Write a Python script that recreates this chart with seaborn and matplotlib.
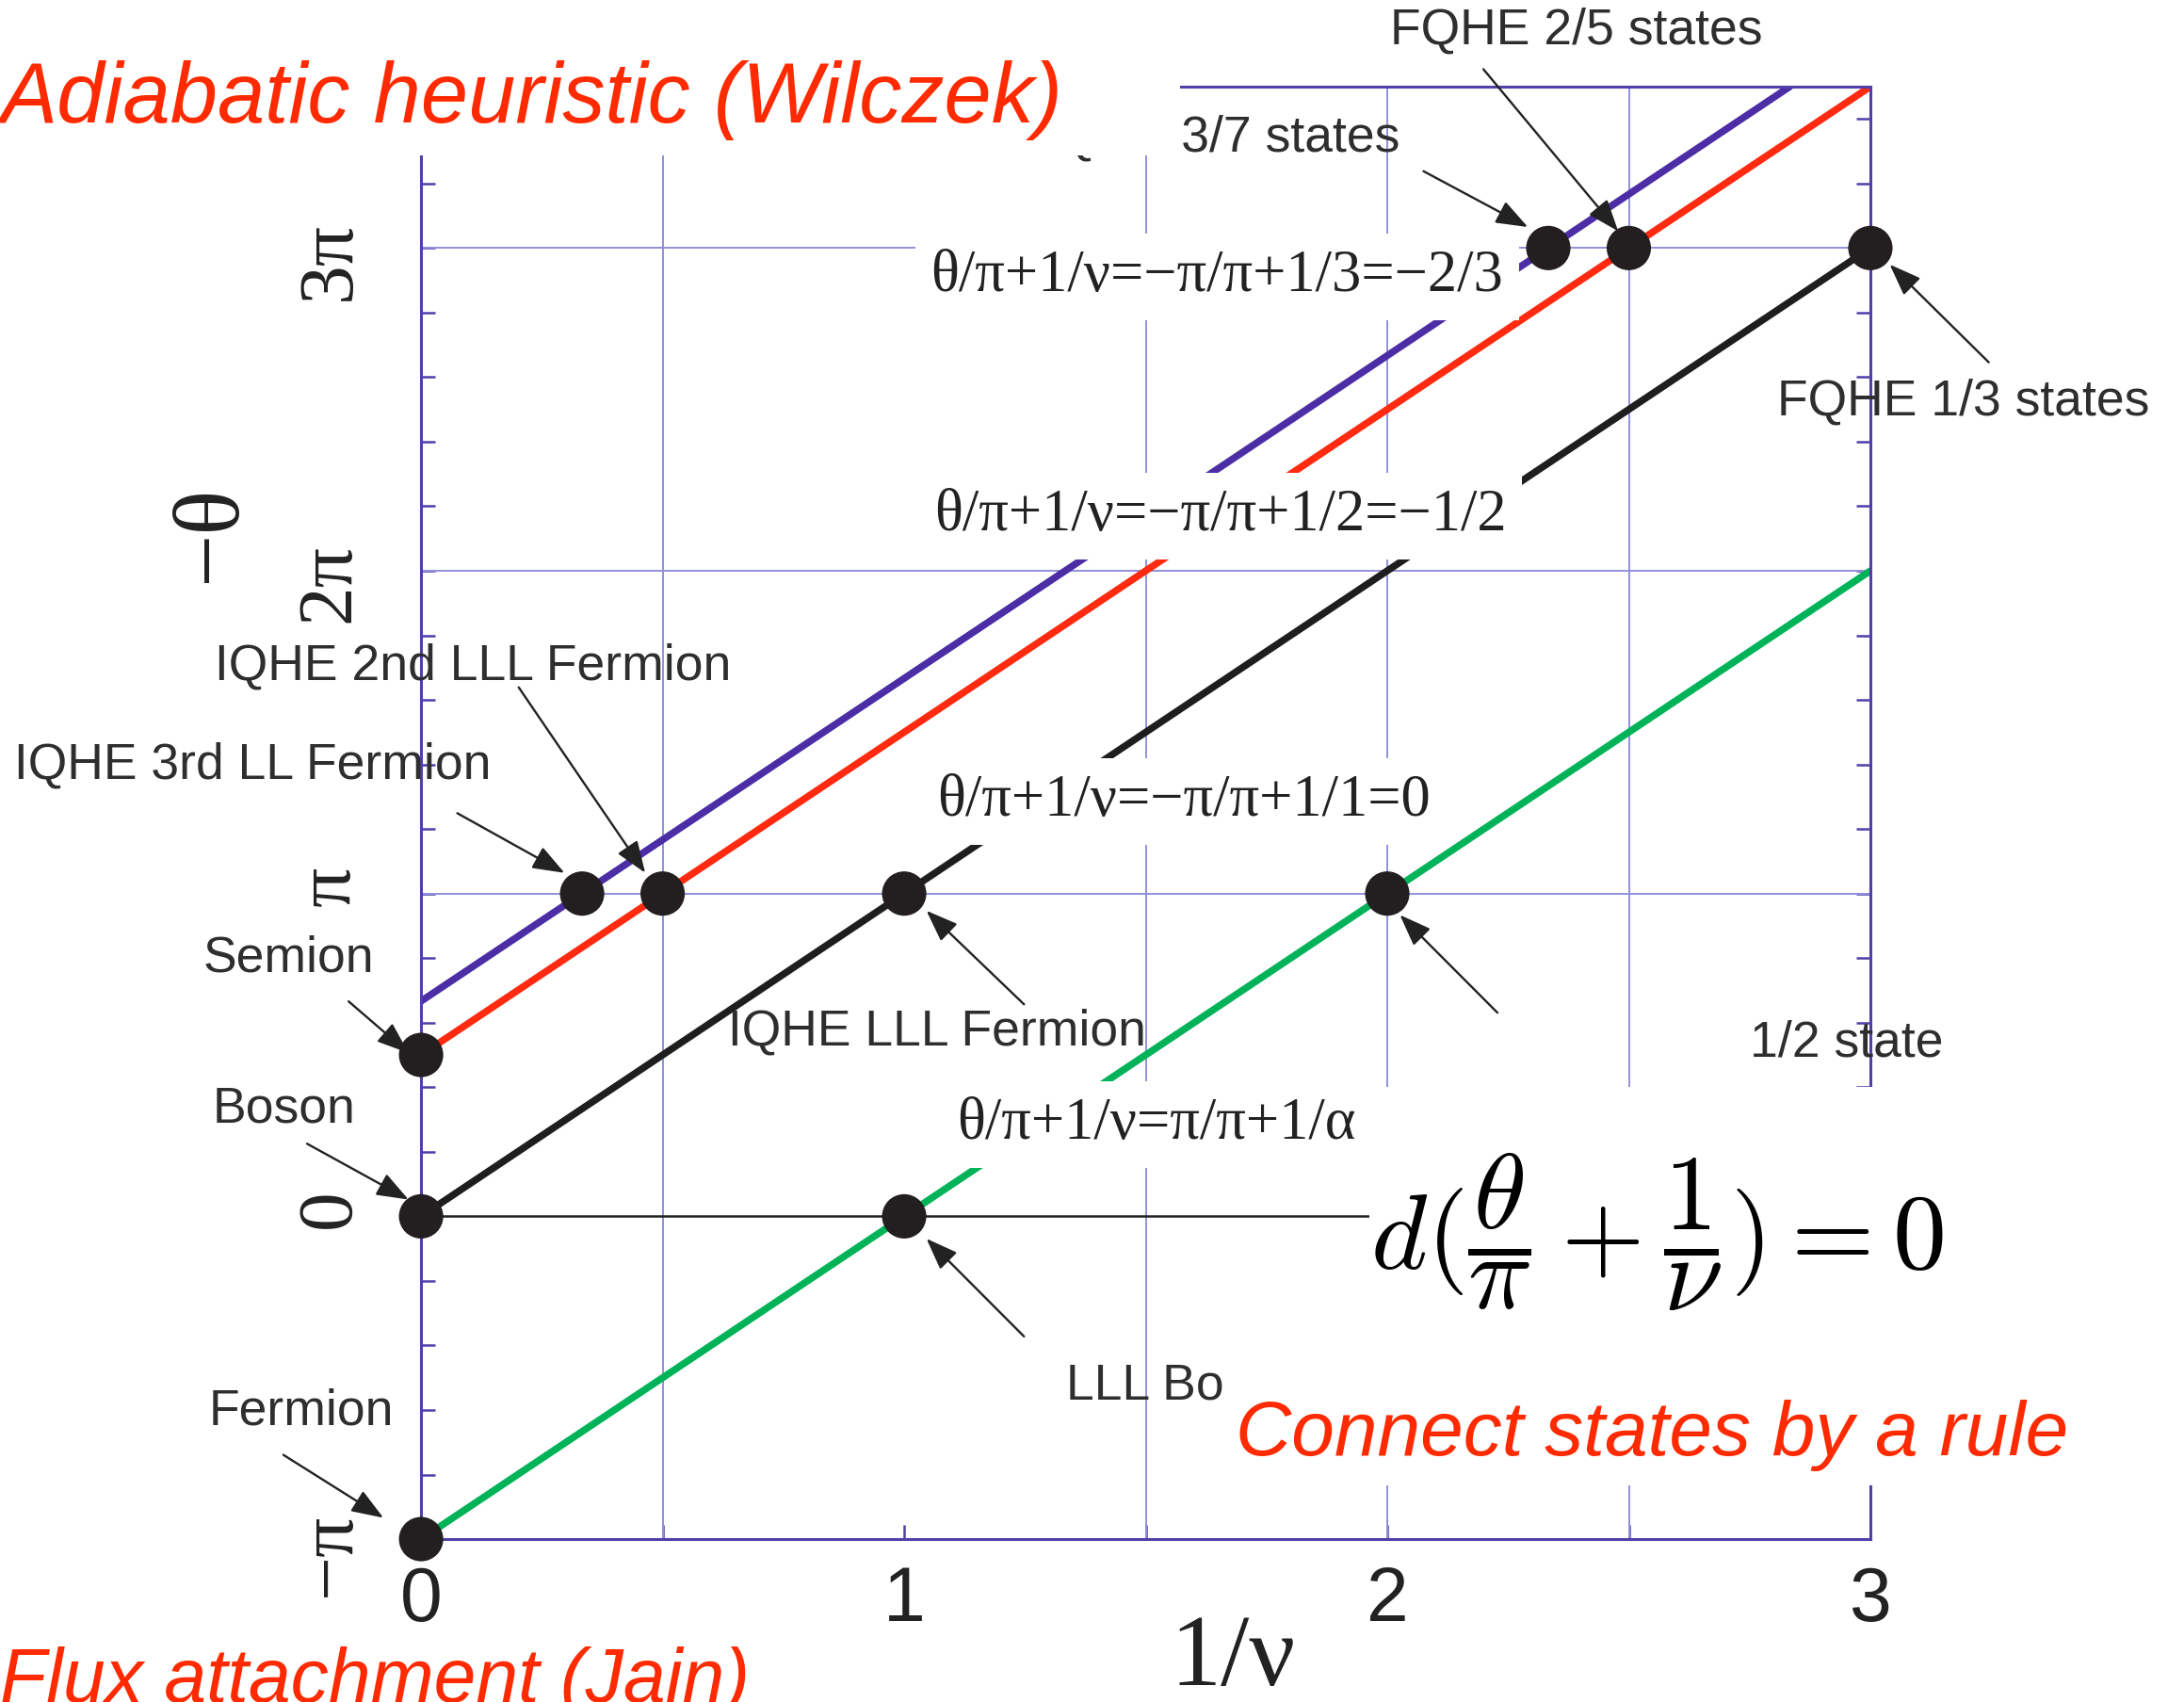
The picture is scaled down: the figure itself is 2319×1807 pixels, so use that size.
import numpy as np
import pandas as pd
import matplotlib
matplotlib.use('Agg')
import matplotlib.pyplot as plt
import seaborn as sns
from matplotlib.patches import Rectangle

# statistics lines: 1/nu on x, -theta/pi on y
blue_x = [0.0, 2.8333]
blue_y = [0.6667, 3.5]
red_x = [0.0, 3.0]
red_y = [0.5, 3.5]
black_x = [0.0, 3.0]
black_y = [0.0, 3.0]
green_x = [0.0, 3.0]
green_y = [-1.0, 2.0]

# special states (dots)
dot_x = [0, 0, 0, 1/3, 0.5, 1, 2, 1, 7/3, 2.5, 3]
dot_y = [-1, 0, 0.5, 1, 1, 1, 1, 0, 3, 3, 3]

x_ticks = [0, 1, 2, 3]
x_ticklabels = ['0', '1', '2', '3']
y_ticks = [-1, 0, 1, 2, 3]
y_ticklabels = ['\u2212\u03c0', '0', '\u03c0', '2\u03c0', '3\u03c0']
vgrid = [0.5, 1.5, 2.0, 2.5]
hgrid = [1, 2, 3]

sns.set_theme(style='white')
plt.rcParams['font.family'] = ['Liberation Sans', 'DejaVu Sans']
plt.rcParams['mathtext.fontset'] = 'cm'

SANS = ['Liberation Sans', 'DejaVu Sans']
SERIF = ['Liberation Serif', 'DejaVu Serif']
SPINE = '#5040a8'
GRID = '#9090dc'
TXT = '#2e2e2e'
RED = '#ff2a00'

fig = plt.figure(figsize=(23.19, 18.07), dpi=100)
ax = fig.add_axes([0.1928, 0.0957, 0.6636, 0.8534])

lines = pd.concat([
    pd.DataFrame({'inv_nu': blue_x, 'theta': blue_y, 'family': 'blue'}),
    pd.DataFrame({'inv_nu': red_x, 'theta': red_y, 'family': 'red'}),
    pd.DataFrame({'inv_nu': black_x, 'theta': black_y, 'family': 'black'}),
    pd.DataFrame({'inv_nu': green_x, 'theta': green_y, 'family': 'green'}),
])
pal = {'blue': '#4b2ea6', 'red': '#ff2a10', 'black': '#1e1e1e', 'green': '#00b358'}

ax.vlines(vgrid, -1, 3.5, color=GRID, lw=1.4, zorder=1)
ax.hlines(hgrid, 0, 3, color=GRID, lw=1.4, zorder=1)
ax.hlines([0], 0, 1.97, color='#222222', lw=1.8, zorder=1.5)

sns.lineplot(data=lines, x='inv_nu', y='theta', hue='family', palette=pal,
             linewidth=5.4, legend=False, sort=False, ax=ax, zorder=2)
sns.scatterplot(x=dot_x, y=dot_y, s=1150, color='#231f20', edgecolor='none',
                zorder=6, clip_on=False, ax=ax)

ax.set_xlim(0, 3)
ax.set_ylim(-1, 3.5)
ax.set_xlabel('')
ax.set_ylabel('')
ax.set_xticks(x_ticks)
ax.set_xticklabels(x_ticklabels, fontfamily=SANS, fontsize=58, color='#222222')
ax.set_xticks([0.5, 1.5, 2.5], minor=True)
ax.set_yticks(y_ticks)
ax.set_yticklabels(y_ticklabels, fontfamily=SERIF, fontsize=60, rotation=90, color='#222222')
ax.set_yticks([v for v in np.round(np.arange(-1, 3.5, 0.2), 2) if abs(v - round(v)) > 1e-6], minor=True)
ax.tick_params(axis='both', which='both', direction='in', length=11, width=1.8,
               color=SPINE, left=True, right=True, bottom=True, top=False)
ax.tick_params(axis='x', which='major', pad=20)
ax.tick_params(axis='y', which='major', pad=42)
for s in ax.spines.values():
    s.set_color(SPINE)
    s.set_linewidth(2.2)

# axis titles
ax.text(-0.432, 2.114, '\u2212\u03b8', family=SERIF, fontsize=72, rotation=90,
        ha='center', va='center', color='#222222')
ax.text(1.68, -1.375, '1/\u03bd', family=SERIF, fontsize=78,
        ha='center', va='center', color='#222222')

# relation labels with white boxes
box = dict(facecolor='white', edgecolor='none', pad=12)
rel = [
    (1.648, 2.910, '\u03b8/\u03c0+1/\u03bd=\u2212\u03c0/\u03c0+1/3=\u22122/3'),
    (1.654, 2.170, '\u03b8/\u03c0+1/\u03bd=\u2212\u03c0/\u03c0+1/2=\u22121/2'),
    (1.579, 1.284, '\u03b8/\u03c0+1/\u03bd=\u2212\u03c0/\u03c0+1/1=0'),
    (1.522, 0.285, '\u03b8/\u03c0+1/\u03bd=\u03c0/\u03c0+1/\u03b1'),
]
for x, y, t in rel:
    ax.text(x, y, t, family=SERIF, fontsize=45, ha='center', va='center',
            color='#222222', bbox=box, zorder=3)

# state labels
labels = [
    (2.392, 3.675, 'FQHE 2/5 states'),
    (1.640, 3.342, 'FQHE 3/7 states'),
    (3.193, 2.525, 'FQHE 1/3 states'),
    (0.107, 1.703, 'IQHE 2nd LLL Fermion'),
    (-0.349, 1.396, 'IQHE 3rd LL Fermion'),
    (-0.274, 0.800, 'Semion'),
    (-0.284, 0.333, 'Boson'),
    (-0.248, -0.605, 'Fermion'),
    (1.069, 0.571, 'IQHE LLL Fermion'),
    (2.951, 0.536, '1/2 state'),
    (1.499, -0.527, 'LLL Bo'),
]
for x, y, t in labels:
    ax.text(x, y, t, family=SANS, fontsize=38.5, ha='center', va='center',
            color=TXT, zorder=3, clip_on=False)

arrows = [
    ((2.199, 3.554), (2.478, 3.052)),
    ((2.075, 3.238), (2.291, 3.065)),
    ((3.245, 2.646), (3.040, 2.949)),
    ((0.202, 1.639), (0.464, 1.064)),
    ((0.075, 1.249), (0.297, 1.064)),
    ((-0.150, 0.666), (-0.026, 0.506)),
    ((-0.236, 0.225), (-0.026, 0.052)),
    ((-0.285, -0.739), (-0.078, -0.934)),
    ((1.248, 0.657), (1.046, 0.947)),
    ((2.228, 0.631), (2.026, 0.934)),
    ((1.248, -0.372), (1.046, -0.069)),
]
for tail, head in arrows:
    ax.annotate('', xy=head, xytext=tail, annotation_clip=False,
                arrowprops=dict(arrowstyle='-|>,head_length=0.4,head_width=0.15',
                                mutation_scale=52, color='#222222', lw=1.7,
                                shrinkA=0, shrinkB=0), zorder=3)

# white cover boxes (collage overlays)
for x0, y0, w, h in [(-1.0, 3.286, 2.571, 0.6), (1.962, -0.50, 1.6, 0.90),
                     (1.686, -0.834, 1.9, 0.334)]:
    ax.add_patch(Rectangle((x0, y0), w, h, facecolor='white', edgecolor='none',
                           zorder=3.5, clip_on=False))

ax.text(2.559, -0.05, r'$d(\dfrac{\theta}{\pi}+\dfrac{1}{\nu})=0$', fontsize=82,
        ha='center', va='center', color='black', zorder=5)
ax.text(1.686, -0.739, 'Connect states by a rule', family=SANS, fontstyle='italic',
        fontsize=59, ha='left', va='baseline', color=RED, zorder=5, clip_on=False)

fig.text(0.0, 0.928, 'Adiabatic heuristic (Wilczek)', family=SANS, fontstyle='italic',
         fontsize=65, ha='left', va='baseline', color=RED)
fig.text(0.0, 0.0, 'Flux attachment (Jain)', family=SANS, fontstyle='italic',
         fontsize=58, ha='left', va='baseline', color=RED)

fig.savefig('out.png', dpi=100, facecolor='white')
